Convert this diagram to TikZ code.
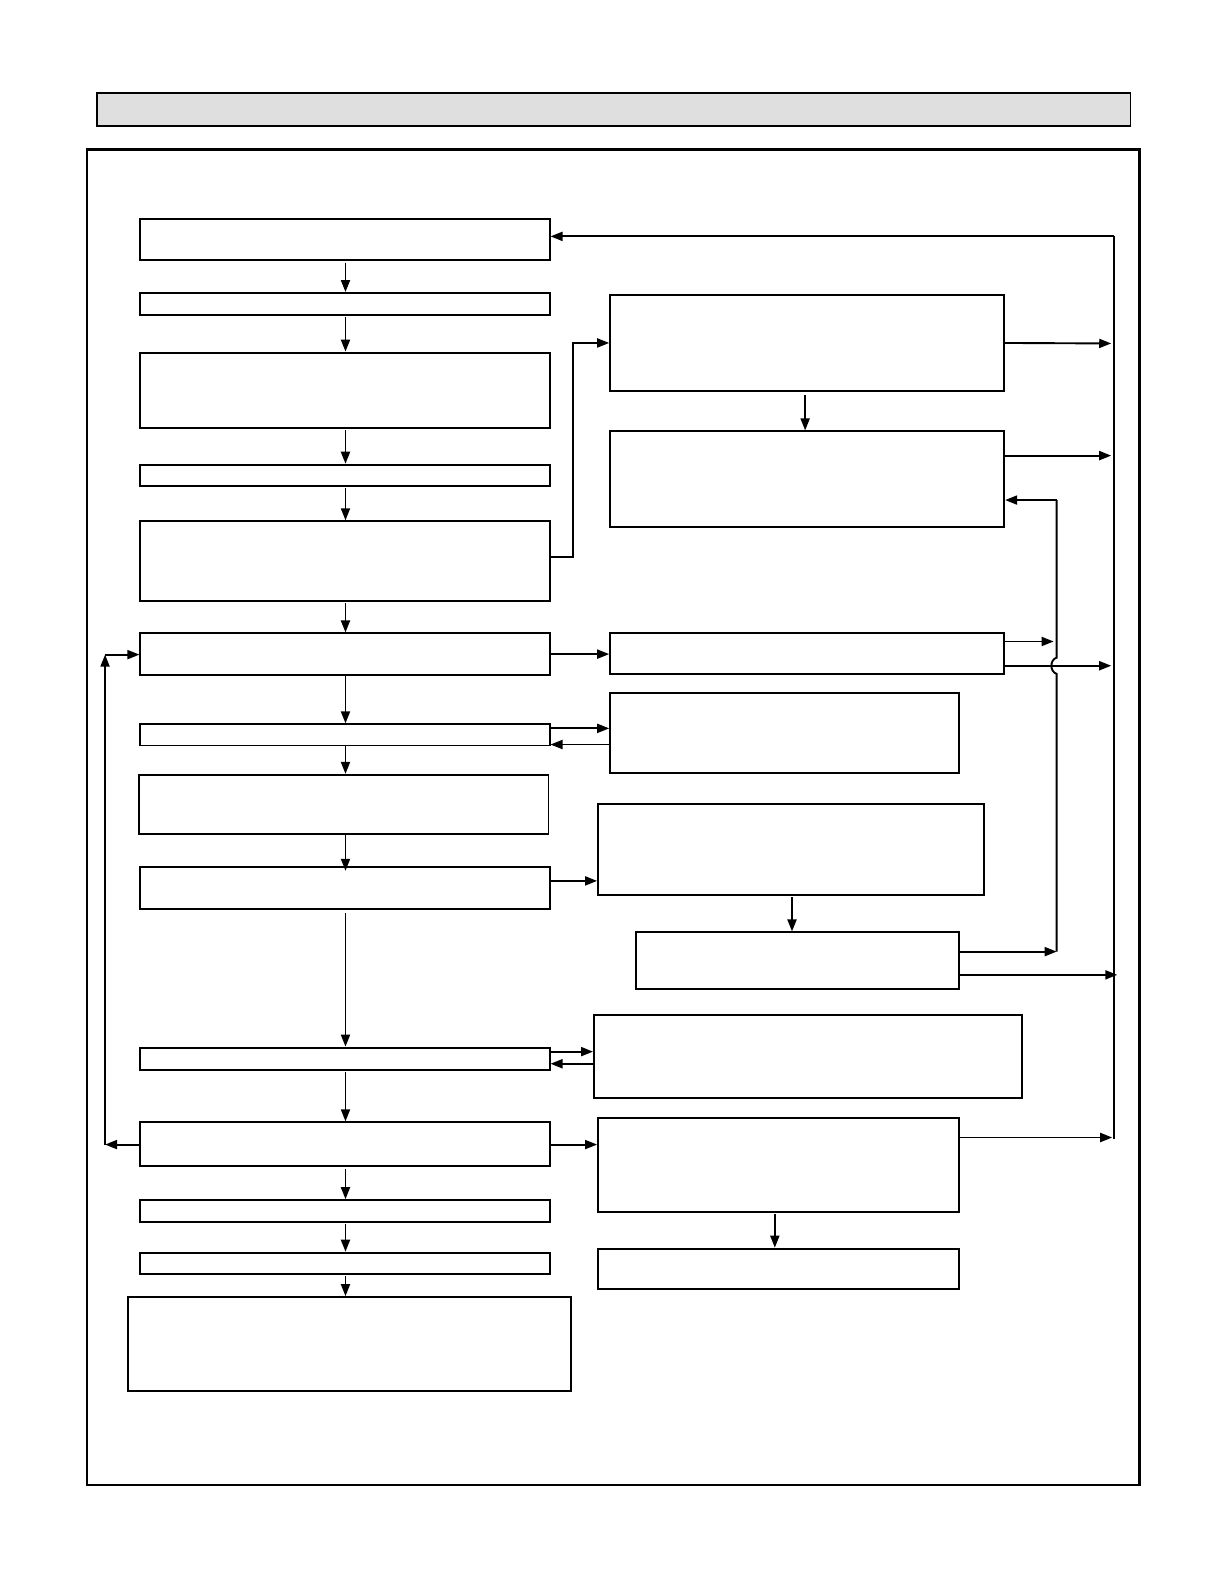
\documentclass[tikz,border=0pt]{standalone}
\usetikzlibrary{arrows.meta,fit}
\definecolor{titlegray}{HTML}{DFDFDF}
\begin{document}
\begin{tikzpicture}[x=1.01pt,y=-1.01pt,
  box/.style={draw,line width=1.9pt,inner sep=0pt},
  arr/.style={line width=1.9pt,-{Triangle[length=12pt,width=9pt]}},
  ln/.style={line width=1.9pt}]
\useasboundingbox (0,0) rectangle (1212,1568);
% title bar and frame
\node[box,fill=titlegray,line width=1.6pt,fit={(96,92)(1119,125)}] (title) {};
\node[draw,line width=2.6pt,inner sep=0pt,fit={(86,148)(1128,1470)}] (frame) {};
% left column
\node[box,fit={(139,217)(544,257)}] (L1) {};
\node[box,fit={(139,290)(544,312)}] (L2) {};
\node[box,fit={(139,349)(544,424)}] (L3) {};
\node[box,fit={(139,460)(544,481)}] (L4) {};
\node[box,fit={(139,516)(544,595)}] (L5) {};
\node[box,fit={(139,627)(544,668)}] (L6) {};
\node[box,fit={(139,717)(544,738)}] (L7) {};
\node[box,fit={(138,767)(543,826)}] (L8) {};
\node[box,fit={(139,858)(544,900)}] (L9) {};
\node[box,fit={(139,1037)(544,1059)}] (L10) {};
\node[box,fit={(139,1111)(544,1154)}] (L11) {};
\node[box,fit={(139,1188)(544,1210)}] (L12) {};
\node[box,fit={(139,1240)(544,1261)}] (L13) {};
\node[box,fit={(127,1284)(565,1377)}] (L14) {};
% right column
\node[box,fit={(604,292)(994,387)}] (R1) {};
\node[box,fit={(604,427)(994,522)}] (R2) {};
\node[box,fit={(604,627)(994,667)}] (R3) {};
\node[box,fit={(604,686)(949,765)}] (R4) {};
\node[box,fit={(592,796)(974,886)}] (R5) {};
\node[box,fit={(630,923)(949,979)}] (R6) {};
\node[box,fit={(588,1005)(1012,1087)}] (R7) {};
\node[box,fit={(592,1107)(949,1200)}] (R8) {};
\node[box,fit={(592,1236)(949,1276)}] (R9) {};
% bus coordinates
\coordinate (BT) at (1103,234);
\coordinate (BB) at (1103,1127);
\coordinate (CT) at (1046,495);
\coordinate (CB) at (1046,942);
\coordinate (LB) at (104,1133);
\coordinate (LT) at (104,648);
% left column flow
\draw[arr] (342,260) -- (L2.north -| 342,0);
\draw[arr] (342,314) -- (L3.north -| 342,0);
\draw[arr] (342,426) -- (L4.north -| 342,0);
\draw[arr] (342,483) -- (L5.north -| 342,0);
\draw[arr] (342,597) -- (L6.north -| 342,0);
\draw[arr] (L6.south -| 342,0) -- (L7.north -| 342,0);
\draw[arr] (L7.south -| 342,0) -- (L8.north -| 342,0);
\draw[arr] (L8.south -| 342,0) -- (342,862);
\draw[arr] (342,904) -- (L10.north -| 342,0);
\draw[arr] (342,1061) -- (L11.north -| 342,0);
\draw[arr] (342,1157) -- (L12.north -| 342,0);
\draw[arr] (342,1212) -- (L13.north -| 342,0);
\draw[arr] (342,1263) -- (L14.north -| 342,0);
% L5 to R1
\draw[arr] (L5.east |- 0,551) -- (567,551) |- (R1.west);
\draw[arr] (797,391) -- (R2.north -| 797,0);
% right outputs to bus
\draw[arr] (R1.east) -- (1100,340);
\draw[arr] (R2.east |- 0,451) -- (1100,451);
\draw[ln] (BT) -- (BB);
\draw[arr] (BT) -- (L1.east |- BT);
% inner bus with hop
\draw[ln] (CT) -- (1046,651) .. controls (1039,653) and (1039,665) .. (1046,667) -- (CB);
\draw[arr] (CT) -- (R2.east |- CT);
\draw[arr] (R3.east |- 0,635) -- (1043,635);
\draw[arr] (R3.east |- 0,659) -- (1100,659);
% L6 - R3
\draw[arr] (L6.east) -- (R3.west |- L6.east);
% L7 - R4
\draw[arr] (L7.east |- 0,721) -- (R4.west |- 0,721);
\draw[arr] (R4.west |- 0,737) -- (L7.east |- 0,737);
% L9 - R5
\draw[arr] (L9.east |- 0,872) -- (R5.west |- 0,872);
\draw[arr] (784,888) -- (R6.north -| 784,0);
\draw[arr] (R6.east |- 0,942) -- (CB);
\draw[arr] (R6.east |- 0,965) -- (1106,965);
% L10 - R7
\draw[arr] (L10.east |- 0,1041) -- (R7.west |- 0,1041);
\draw[arr] (R7.west |- 0,1053) -- (L10.east |- 0,1053);
% L11 - R8
\draw[arr] (L11.east |- 0,1133) -- (R8.west |- 0,1133);
\draw[arr] (R8.east |- 0,1126) -- (1101,1126);
\draw[arr] (767,1202) -- (R9.north -| 767,0);
% left loop
\draw[arr] (L11.west |- LB) -- (LB);
\draw[arr] (LB) -- (LT);
\draw[arr] (LT) -- (L6.west |- LT);
\end{tikzpicture}
\end{document}
